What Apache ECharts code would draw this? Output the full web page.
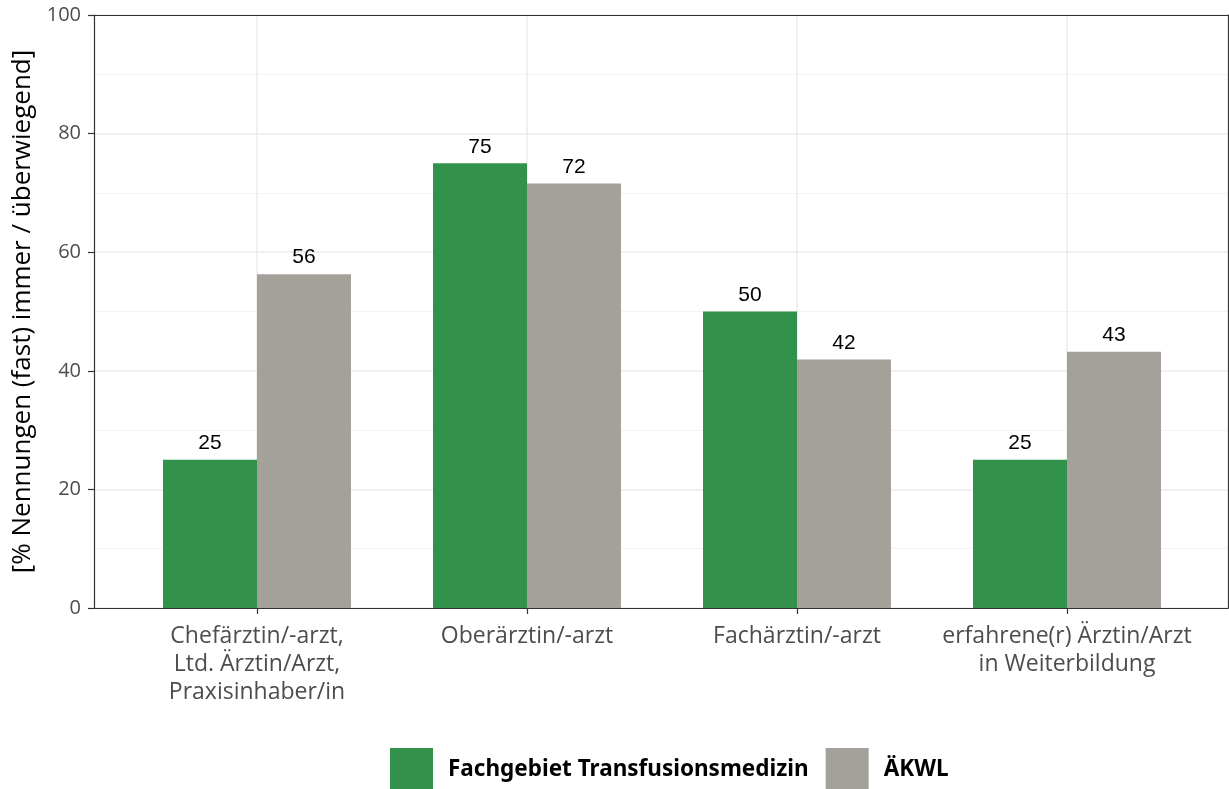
<!DOCTYPE html>
<html>
<head>
<meta charset="utf-8">
<script src="https://cdn.jsdelivr.net/npm/echarts@6/dist/echarts.min.js"></script>
<style>
  html, body { margin: 0; padding: 0; background: #fff; }
  #chart { width: 1229px; height: 789px; }
</style>
</head>
<body>
<div id="chart"></div>
<script>
const categories = [
  "Chefärztin/-arzt,\nLtd. Ärztin/Arzt,\nPraxisinhaber/in",
  "Oberärztin/-arzt",
  "Fachärztin/-arzt",
  "erfahrene(r) Ärztin/Arzt\nin Weiterbildung",
];
const fachgebiet = [25, 75, 50, 25];
const aekwl = [56.3, 71.6, 41.9, 43.2];
const yTicks = [0, 20, 40, 60, 80, 100];

const GREEN = "#32914a";
const GRAY = "#a4a19a";
const FRAME = "#333";

const chart = echarts.init(document.getElementById("chart"));

const barLabel = {
  show: true,
  position: "top",
  distance: 6,
  color: "#000",
  fontSize: 21,
  fontFamily: "Liberation Sans",
  formatter: (p) => Math.round(p.value),
};

// axis used only to draw one side of the panel frame
const frameAxis = (extra) => Object.assign({
  gridIndex: 1,
  type: "value",
  min: 0,
  max: 1,
  z: 5,
  axisLine: { show: true, onZero: false, lineStyle: { color: FRAME, width: 1.2 } },
  axisTick: { show: false },
  axisLabel: { show: false },
  splitLine: { show: false },
}, extra);

const option = {
  animation: false,
  legend: {
    top: 743,
    left: 385,
    itemWidth: 43,
    itemHeight: 43,
    itemGap: 17,
    icon: "rect",
    textStyle: {
      fontSize: 22.5,
      fontWeight: "bold",
      color: "#000",
      fontFamily: "Noto Sans",
      padding: [0, 0, 0, 10],
    },
    data: ["Fachgebiet Transfusionsmedizin", "ÄKWL"],
  },
  grid: [
    // bars
    { left: 122, width: 1080, top: 15, bottom: 181 },
    // frame + y axis
    { left: 94, right: 1, top: 15, bottom: 181 },
  ],
  xAxis: [
    {
      gridIndex: 0,
      type: "category",
      data: categories,
      axisLine: { show: false },
      axisTick: { show: true, interval: 0, alignWithLabel: true, length: 6, lineStyle: { color: FRAME, width: 1.2 } },
      splitLine: { show: true, interval: 0, alignWithLabel: true, lineStyle: { color: "#ebebeb", width: 1.5 } },
      axisLabel: {
        interval: 0,
        color: "#4d4d4d",
        fontSize: 23,
        lineHeight: 28,
        margin: 14,
        fontFamily: "Open Sans",
      },
    },
    frameAxis({ position: "bottom" }),
    frameAxis({ position: "top" }),
  ],
  yAxis: [
    { gridIndex: 0, type: "value", min: 0, max: 100, show: false },
    {
      gridIndex: 1,
      type: "value",
      min: yTicks[0],
      max: yTicks[yTicks.length - 1],
      interval: 20,
      name: "[% Nennungen (fast) immer / überwiegend]",
      nameLocation: "middle",
      nameGap: 58,
      nameTextStyle: { fontSize: 26, color: "#000", fontFamily: "Open Sans" },
      axisLine: { show: true, onZero: false, lineStyle: { color: FRAME, width: 1.2 } },
      axisTick: { show: true, length: 6, lineStyle: { color: FRAME, width: 1.2 } },
      axisLabel: { color: "#4d4d4d", fontSize: 20, margin: 13, fontFamily: "Open Sans" },
      splitLine: { show: true, lineStyle: { color: "#ebebeb", width: 1.5 } },
      minorTick: { show: false, splitNumber: 2 },
      minorSplitLine: { show: true, lineStyle: { color: "#f3f3f3", width: 1 } },
    },
    frameAxis({ position: "right", max: 100 }),
  ],
  series: [
    {
      name: "Fachgebiet Transfusionsmedizin",
      type: "bar",
      xAxisIndex: 0,
      yAxisIndex: 0,
      data: fachgebiet,
      barWidth: 94,
      barGap: "0%",
      itemStyle: { color: GREEN },
      label: barLabel,
    },
    {
      name: "ÄKWL",
      type: "bar",
      xAxisIndex: 0,
      yAxisIndex: 0,
      data: aekwl,
      barWidth: 94,
      barGap: "0%",
      itemStyle: { color: GRAY },
      label: barLabel,
    },
  ],
};

chart.setOption(option);
</script>
</body>
</html>
